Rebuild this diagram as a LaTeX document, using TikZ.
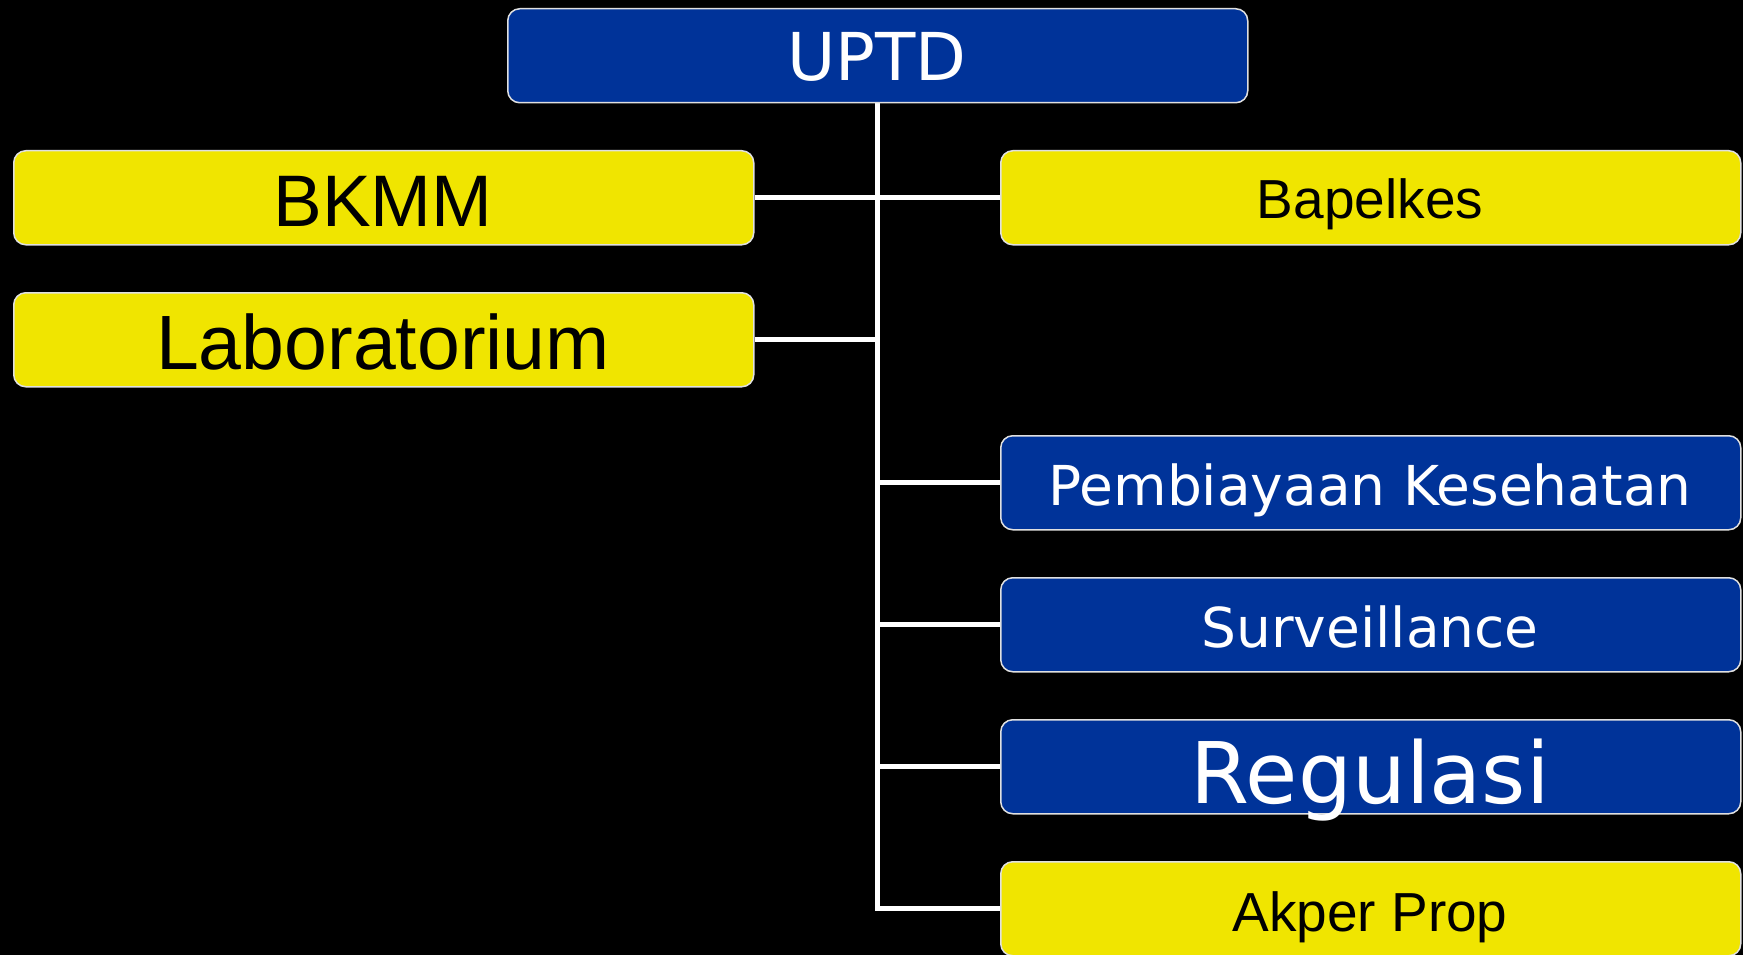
\documentclass[tikz,border=0pt]{standalone}
\usepackage{fontspec}
\setmainfont{Liberation Sans}
\newfontfamily\vfont{DejaVu Sans}
\usetikzlibrary{calc,backgrounds}
\definecolor{boxblue}{RGB}{0,51,153}
\definecolor{boxyellow}{RGB}{240,229,0}
\begin{document}
\begin{tikzpicture}[x=1pt,y=-1pt,
  unit/.style={draw=white!88!black, line width=1.5pt, rounded corners=12pt,
    minimum width=740pt, minimum height=94pt, inner sep=0pt, anchor=north west},
  blueunit/.style={unit, fill=boxblue},
  yellowunit/.style={unit, fill=boxyellow},
  bluetext/.style={text=white, anchor=base, inner sep=0pt},
  yellowtext/.style={text=black, anchor=base, inner sep=0pt},
  link/.style={draw=white, line width=5pt}]
\useasboundingbox (0,0) rectangle (1743,955);

% boxes
\node[blueunit]   (up)   at (507,8)    {};
\node[yellowunit] (bkmm) at (13,150)   {};
\node[yellowunit] (lab)  at (13,292)   {};
\node[yellowunit] (bap)  at (1000,150) {};
\node[blueunit]   (pemb) at (1000,435) {};
\node[blueunit]   (surv) at (1000,577) {};
\node[blueunit]   (reg)  at (1000,719) {};
\node[yellowunit] (akp)  at (1000,861) {};

% labels, set on their baselines
\node[bluetext, font=\vfont\fontsize{66}{70}\selectfont]   (tup)   at (877,81)   {UPTD};
\node[yellowtext, font=\fontsize{73}{80}\selectfont]       (tbkmm) at (383,226)  {BKMM};
\node[yellowtext, font=\fontsize{77}{84}\selectfont]       (tlab)  at (383,369)  {Laboratorium};
\node[yellowtext, font=\fontsize{55}{60}\selectfont]       (tbap)  at (1370,218) {Bapelkes};
\node[bluetext, font=\vfont\fontsize{55}{60}\selectfont]   (tpemb) at (1370,505) {Pembiayaan Kesehatan};
\node[bluetext, font=\vfont\fontsize{55}{60}\selectfont]   (tsurv) at (1370,647) {Surveillance};
\node[bluetext, font=\vfont\fontsize{85}{90}\selectfont]   (treg)  at (1370,803) {Regulasi};
\node[yellowtext, font=\fontsize{55}{60}\selectfont]       (takp)  at (1370,931) {Akper Prop};

% background and connectors
\begin{scope}[on background layer]
  \fill[black] (0,0) rectangle (1743,955);
  \draw[link] (up.south) -- (up.south |- akp.west) -- (akp.west);
  \draw[link] (bkmm.east) -- (bap.west);
  \draw[link] (lab.east) -- (lab.east -| up.south);
  \draw[link] (up.south |- pemb.west) -- (pemb.west);
  \draw[link] (up.south |- surv.west) -- (surv.west);
  \draw[link] (up.south |- reg.west) -- (reg.west);
\end{scope}
\end{tikzpicture}
\end{document}
